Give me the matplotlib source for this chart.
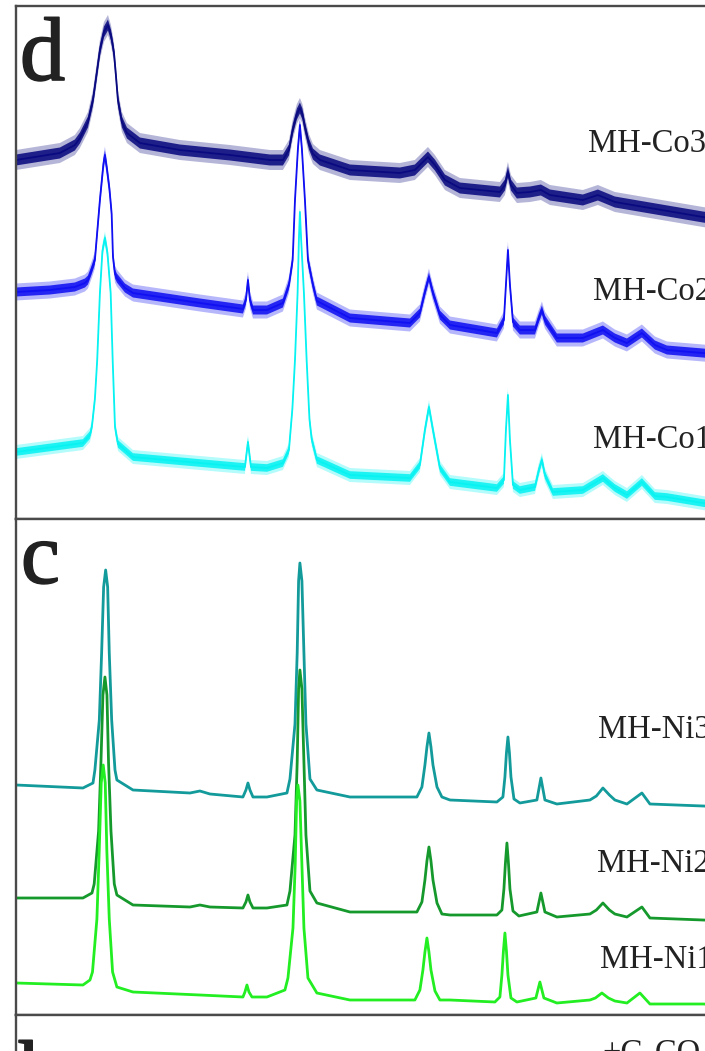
import matplotlib
matplotlib.use("Agg")
import matplotlib.pyplot as plt
import matplotlib.patheffects as pe
import numpy as np

# ---------------- data (2theta in degrees, stacked intensity in a.u.) ----------------
tt_co3 = [9.75, 14.12, 15.61, 16.11, 16.91, 17.41, 17.80, 18.10, 18.50, 18.90, 19.20, 19.49, 19.69, 19.89,
          20.29, 20.79, 22.08, 26.06, 31.04, 35.02, 36.31, 36.91, 37.30, 37.70, 38.00, 38.25, 38.50, 38.90,
          39.30, 39.99, 42.98, 47.95, 49.44, 50.14, 50.74, 51.43, 52.43, 53.92, 57.90, 58.40, 58.70, 59.00,
          59.59, 60.89, 61.98, 62.88, 66.16, 67.65, 69.34, 72.83, 78.10, 80.00]
int_co3 = [359, 366, 374, 381, 397, 419, 447, 469, 487, 494, 484, 467, 444, 419,
           397, 386, 376, 369, 364, 359, 359, 369, 390, 405, 411, 405, 392, 375,
           365, 359, 349, 346, 349, 356, 362, 354, 339, 331, 327, 334, 347, 334,
           326, 327, 329, 324, 319, 324, 317, 311, 302, 299]

tt_co2 = [9.75, 13.13, 15.61, 16.61, 16.91, 17.31, 17.60, 18.10, 18.45, 18.60, 18.80, 19.05, 19.27, 19.40,
          19.60, 19.79, 20.59, 21.39, 28.05, 32.33, 32.63, 32.83, 33.03, 33.33, 34.72, 36.31, 36.91, 37.28,
          37.51, 37.80, 38.00, 38.20, 38.50, 38.80, 39.30, 39.69, 42.98, 48.95, 49.94, 50.44, 50.84, 51.24,
          51.93, 52.93, 57.60, 58.30, 58.50, 58.70, 58.90, 59.20, 59.89, 61.39, 61.78, 62.08, 62.38, 63.57,
          66.16, 68.15, 69.34, 70.54, 72.03, 73.32, 74.52, 78.10, 80.00]
int_co2 = [227, 229, 232, 236, 239, 250, 259, 319, 355, 364, 350, 330, 305, 262,
           245, 241, 231, 226, 216, 210, 219, 239, 219, 209, 209, 216, 234, 259,
           319, 370, 394, 370, 319, 259, 234, 218, 201, 196, 206, 227, 242, 226,
           204, 194, 186, 199, 234, 269, 234, 197, 189, 189, 201, 209, 199, 181,
           181, 189, 181, 176, 186, 174, 169, 166, 164]

tt_co1 = [9.75, 16.41, 17.11, 17.30, 17.60, 17.83, 18.10, 18.35, 18.60, 18.85, 19.17, 19.37, 19.60, 19.90,
          20.59, 21.39, 28.05, 32.53, 32.83, 33.13, 34.72, 36.31, 36.91, 37.00, 37.25, 37.51, 37.77, 37.90,
          38.00, 38.12, 38.40, 38.67, 38.95, 39.17, 39.69, 42.98, 48.95, 49.94, 50.44, 50.84, 51.24, 51.93,
          52.93, 57.60, 58.30, 58.50, 58.70, 58.90, 59.20, 59.89, 61.39, 61.78, 62.08, 62.38, 63.17, 66.16,
          68.15, 69.34, 70.54, 72.03, 73.32, 74.52, 78.10, 80.00]
int_co1 = [67, 76, 84, 92, 120, 159, 226, 268, 281, 266, 226, 159, 92, 75,
           69, 62, 56, 52, 77, 52, 51, 56, 69, 80, 110, 159, 226, 280,
           307, 280, 226, 159, 100, 80, 59, 44, 41, 54, 89, 112, 89, 51,
           37, 31, 39, 89, 124, 79, 34, 29, 32, 49, 59, 44, 27, 29,
           41, 31, 24, 37, 23, 22, 16, 13]

tt_ni3 = [9.75, 16.41, 17.41, 17.60, 18.04, 18.27, 18.47, 18.67, 18.87, 19.03, 19.27, 19.60, 19.79, 21.39,
          27.06, 28.05, 29.05, 32.33, 32.63, 32.83, 33.03, 33.33, 34.72, 36.71, 37.01, 37.51, 37.73, 37.87,
          38.00, 38.20, 38.40, 38.60, 39.00, 39.69, 42.98, 49.64, 50.14, 50.44, 50.64, 50.84, 51.04, 51.24,
          51.64, 52.13, 52.93, 57.60, 58.20, 58.40, 58.55, 58.70, 58.85, 59.00, 59.30, 59.89, 61.58, 61.98,
          62.38, 63.57, 66.86, 67.50, 68.15, 68.80, 69.34, 70.54, 72.03, 72.83, 78.10, 80.00]
int_ni3 = [230, 227, 232, 245, 295, 362, 428, 445, 428, 362, 295, 245, 235, 225,
           222, 224, 221, 218, 225, 232, 225, 218, 218, 222, 236, 291, 362, 434,
           452, 434, 362, 291, 236, 225, 218, 218, 228, 250, 268, 282, 268, 250,
           228, 218, 215, 213, 218, 238, 262, 278, 262, 238, 216, 212, 215, 237,
           215, 211, 215, 219, 227, 220, 215, 211, 222, 211, 209, 208]

tt_ni2 = [9.75, 16.41, 17.31, 17.53, 17.97, 18.20, 18.40, 18.60, 18.80, 18.96, 19.20, 19.53, 19.79, 21.39,
          27.06, 28.05, 29.05, 32.33, 32.63, 32.83, 33.03, 33.33, 34.72, 36.71, 37.01, 37.51, 37.73, 37.87,
          38.00, 38.20, 38.40, 38.60, 39.00, 39.69, 42.98, 49.64, 50.14, 50.44, 50.64, 50.84, 51.04, 51.24,
          51.64, 52.13, 52.93, 57.60, 58.10, 58.30, 58.45, 58.60, 58.75, 58.90, 59.20, 59.79, 61.58, 61.98,
          62.38, 63.57, 66.86, 67.50, 68.15, 68.80, 69.34, 70.54, 72.03, 72.83, 78.10, 80.00]
int_ni2 = [117, 117, 122, 131, 184, 252, 320, 338, 320, 252, 184, 131, 120, 110,
           108, 110, 108, 107, 113, 120, 113, 107, 107, 110, 124, 180, 253, 326,
           345, 326, 253, 180, 124, 112, 103, 103, 113, 135, 154, 168, 154, 135,
           112, 101, 100, 100, 105, 126, 152, 172, 152, 126, 104, 99, 103, 122,
           103, 98, 101, 105, 112, 105, 101, 98, 108, 97, 95, 94]

tt_ni1 = [9.75, 16.41, 17.11, 17.36, 17.80, 18.03, 18.23, 18.43, 18.63, 18.79, 19.03, 19.36, 19.79, 21.39,
          28.05, 32.33, 32.53, 32.73, 32.93, 33.23, 34.72, 36.51, 36.81, 37.31, 37.53, 37.67, 37.80, 38.00,
          38.20, 38.40, 38.80, 39.69, 42.98, 48.95, 49.44, 49.94, 50.24, 50.44, 50.64, 50.84, 51.04, 51.44,
          51.93, 52.93, 57.40, 57.90, 58.10, 58.25, 58.40, 58.55, 58.70, 59.00, 59.59, 61.48, 61.88, 62.28,
          63.57, 66.86, 67.40, 68.05, 68.70, 69.34, 70.54, 71.83, 72.83, 78.10, 80.00]
int_ni1 = [32, 30, 35, 43, 96, 164, 232, 250, 232, 164, 96, 43, 28, 23,
           20, 18, 23, 30, 23, 18, 18, 25, 37, 87, 150, 214, 230, 214,
           150, 87, 37, 22, 15, 15, 15, 25, 45, 63, 77, 63, 45, 24,
           15, 15, 13, 18, 40, 64, 82, 64, 40, 17, 13, 17, 33, 17,
           12, 15, 17, 22, 17, 14, 12, 22, 11, 11, 10]

labels_d = ["MH-Co3", "MH-Co2", "MH-Co1"]
labels_c = ["MH-Ni3", "MH-Ni2", "MH-Ni1"]
colors_d = ["#0a0a80", "#1010f2", "#08f2f2"]
colors_c = ["#139a9a", "#16992c", "#22ee22"]

# ---------------- figure ----------------
W, H = 705, 1051
fig = plt.figure(figsize=(W / 100, H / 100), dpi=100)
fig.patch.set_facecolor("white")

def px_axes(x0, y0, x1, y1):
    return fig.add_axes([x0 / W, 1 - y1 / H, (x1 - x0) / W, (y1 - y0) / H])

frame_col = "#4a4a4a"
ax_d = px_axes(16, 6, 722, 519)
ax_c = px_axes(16, 519, 722, 1015)
ax_b = px_axes(16, 1015, 722, 1600)

for ax in (ax_d, ax_c, ax_b):
    ax.set_xlim(9.75, 80)
    ax.set_xticks([])
    ax.set_yticks([])
    for s in ax.spines.values():
        s.set_color(frame_col)
        s.set_linewidth(1.7)
ax_d.set_ylim(0, 513)
ax_c.set_ylim(0, 496)
ax_b.set_ylim(0, 585)

# panel d : noisy Co patterns -> core line + soft noise band
series_d = [(tt_co3, int_co3, 5.5, 10), (tt_co2, int_co2, 4.5, 8.5), (tt_co1, int_co1, 3.8, 7)]
for (tt, iy, core, halo), col in zip(series_d, colors_d):
    tt = np.asarray(tt, float)
    iy = np.asarray(iy, float)
    ax_d.fill_between(tt, iy - halo, iy + halo, color=col, alpha=0.30, lw=0)
    ax_d.fill_between(tt, iy - core, iy + core, color=col, alpha=0.88, lw=0)
    ax_d.plot(tt, iy, color=col, lw=1.3)

series_c = [(tt_ni3, int_ni3), (tt_ni2, int_ni2), (tt_ni1, int_ni1)]
for (tt, iy), col in zip(series_c, colors_c):
    ax_c.plot(tt, iy, color=col, lw=2.0)

serif = ["Liberation Serif", "DejaVu Serif"]
txt_col = "#222222"

def ftext(xpx, ypx, s, size, bold_px=0.0, **kw):
    t = fig.text(xpx / W, 1 - ypx / H, s, fontsize=size, family=serif, color=txt_col,
                 va="baseline", ha="left", **kw)
    if bold_px:
        t.set_path_effects([pe.withStroke(linewidth=bold_px, foreground=txt_col)])
    return t

# panel letters
ftext(20, 80, "d", 65, bold_px=1.2)
ftext(21, 583, "c", 63, bold_px=1.2)
ftext(19, 1102, "b", 64, bold_px=1.2)

# curve labels
for lab, (xp, yp) in zip(labels_d, [(588, 152), (593, 300), (593, 448)]):
    ftext(xp, yp, lab, 23.5)
for lab, (xp, yp) in zip(labels_c, [(598, 738), (597, 872), (600, 968)]):
    ftext(xp, yp, lab, 23.5)
ftext(602, 1062, "+G-CO", 23.5)

fig.savefig("out.png", dpi=100, facecolor="white")
